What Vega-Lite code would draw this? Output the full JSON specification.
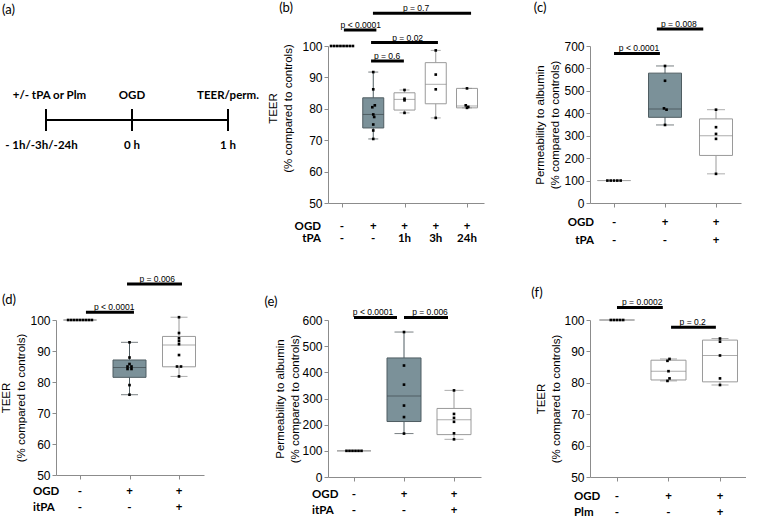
{
"$schema": "https://vega.github.io/schema/vega-lite/v6.json",
"background": "white",
"padding": {"top": 2, "left": 0, "right": 0, "bottom": 0},
"config": {
  "view": {"stroke": null},
  "scale": {"continuousPadding": 0},
  "axis": {"domainColor": "#8c8c8c", "tickColor": "#8c8c8c", "tickSize": 4, "grid": false, "labelOverlap": false, "labelSeparation": 0, "labelFont": "Liberation Sans", "labelFontSize": 12, "labelColor": "#000", "labelPadding": 2, "titleFont": "Liberation Sans", "titleFontSize": 11.5, "titleFontWeight": "normal", "titleColor": "#000", "titlePadding": 8, "titleLineHeight": 15, "domainWidth": 1, "tickWidth": 1},
  "axisY": {"labelOverlap": false},
  "axisLeft": {"labelOverlap": false}
},
"datasets": {
  "boxes": [
    {"panel":"b","x":1,"lo":100,"q1":100,"med":100,"q3":100,"hi":100,"grp":"ctrl"},
    {"panel":"b","x":2,"lo":70.4,"q1":73.9,"med":78.2,"q3":83.5,"hi":91.7,"grp":"OGD"},
    {"panel":"b","x":3,"lo":78.7,"q1":79.6,"med":83.0,"q3":85.1,"hi":86.0,"grp":"tr"},
    {"panel":"b","x":4,"lo":77.1,"q1":81.6,"med":87.8,"q3":94.7,"hi":98.6,"grp":"tr"},
    {"panel":"b","x":5,"lo":80.3,"q1":80.3,"med":80.9,"q3":86.5,"hi":86.5,"grp":"tr"},
    {"panel":"c","x":1,"lo":100,"q1":100,"med":100,"q3":100,"hi":100,"grp":"ctrl"},
    {"panel":"c","x":2,"lo":348,"q1":382,"med":419,"q3":579,"hi":611,"grp":"OGD"},
    {"panel":"c","x":3,"lo":130,"q1":212,"med":300,"q3":375,"hi":416,"grp":"tr"},
    {"panel":"d","x":1,"lo":100,"q1":100,"med":100,"q3":100,"hi":100,"grp":"ctrl"},
    {"panel":"d","x":2,"lo":75.9,"q1":81.5,"med":84.7,"q3":87.1,"hi":92.8,"grp":"OGD"},
    {"panel":"d","x":3,"lo":81.8,"q1":84.9,"med":91.9,"q3":94.7,"hi":100.9,"grp":"tr"},
    {"panel":"e","x":1,"lo":100,"q1":100,"med":100,"q3":100,"hi":100,"grp":"ctrl"},
    {"panel":"e","x":2,"lo":166,"q1":212,"med":310,"q3":455,"hi":554,"grp":"OGD"},
    {"panel":"e","x":3,"lo":144,"q1":162,"med":219,"q3":262,"hi":331,"grp":"tr"},
    {"panel":"f","x":1,"lo":100,"q1":100,"med":100,"q3":100,"hi":100,"grp":"ctrl"},
    {"panel":"f","x":2,"lo":80.6,"q1":80.9,"med":83.7,"q3":87.2,"hi":87.6,"grp":"tr"},
    {"panel":"f","x":3,"lo":79.3,"q1":80.3,"med":88.7,"q3":93.6,"hi":94.1,"grp":"tr"}
  ],
  "points": [
    {"panel":"b","x":0.65,"v":100},{"panel":"b","x":0.75,"v":100},{"panel":"b","x":0.85,"v":100},{"panel":"b","x":0.95,"v":100},
    {"panel":"b","x":1.05,"v":100},{"panel":"b","x":1.15,"v":100},{"panel":"b","x":1.25,"v":100},{"panel":"b","x":1.35,"v":100},
    {"panel":"b","x":2,"v":91.7},{"panel":"b","x":2,"v":86.2},{"panel":"b","x":2.05,"v":81.1},{"panel":"b","x":1.97,"v":80.5},
    {"panel":"b","x":2,"v":78.2},{"panel":"b","x":2.03,"v":77.4},{"panel":"b","x":2,"v":75.0},{"panel":"b","x":2,"v":73.1},{"panel":"b","x":2,"v":70.4},
    {"panel":"b","x":3,"v":86.0},{"panel":"b","x":3,"v":83.2},{"panel":"b","x":3,"v":82.7},{"panel":"b","x":3,"v":78.7},
    {"panel":"b","x":4,"v":98.6},{"panel":"b","x":4,"v":90.9},{"panel":"b","x":4,"v":86.2},{"panel":"b","x":4,"v":77.1},
    {"panel":"b","x":5,"v":86.5},{"panel":"b","x":4.96,"v":81.1},{"panel":"b","x":5.04,"v":80.6},{"panel":"b","x":5,"v":80.3},
    {"panel":"c","x":0.87,"v":100},{"panel":"c","x":0.935,"v":100},{"panel":"c","x":1,"v":100},{"panel":"c","x":1.065,"v":100},{"panel":"c","x":1.13,"v":100},
    {"panel":"c","x":2,"v":611},{"panel":"c","x":2,"v":545},{"panel":"c","x":1.98,"v":422},{"panel":"c","x":2.03,"v":416},{"panel":"c","x":2,"v":348},
    {"panel":"c","x":3,"v":416},{"panel":"c","x":3,"v":338},{"panel":"c","x":3,"v":308},{"panel":"c","x":3,"v":286},{"panel":"c","x":3,"v":130},
    {"panel":"d","x":0.76,"v":100},{"panel":"d","x":0.82,"v":100},{"panel":"d","x":0.88,"v":100},{"panel":"d","x":0.94,"v":100},{"panel":"d","x":1,"v":100},
    {"panel":"d","x":1.06,"v":100},{"panel":"d","x":1.12,"v":100},{"panel":"d","x":1.18,"v":100},{"panel":"d","x":1.24,"v":100},
    {"panel":"d","x":2,"v":92.8},{"panel":"d","x":2,"v":87.9},{"panel":"d","x":2,"v":85.8},{"panel":"d","x":1.96,"v":85.0},{"panel":"d","x":2.04,"v":85.0},
    {"panel":"d","x":1.96,"v":84.2},{"panel":"d","x":2.04,"v":84.2},{"panel":"d","x":2,"v":79.0},{"panel":"d","x":2,"v":75.9},
    {"panel":"d","x":3,"v":100.9},{"panel":"d","x":3,"v":95.8},{"panel":"d","x":3,"v":94.1},{"panel":"d","x":3,"v":93.2},{"panel":"d","x":3,"v":92.2},
    {"panel":"d","x":3,"v":88.7},{"panel":"d","x":2.96,"v":85.0},{"panel":"d","x":3.04,"v":85.0},{"panel":"d","x":3,"v":81.8},
    {"panel":"e","x":0.85,"v":100},{"panel":"e","x":0.91,"v":100},{"panel":"e","x":0.97,"v":100},{"panel":"e","x":1.03,"v":100},{"panel":"e","x":1.09,"v":100},{"panel":"e","x":1.15,"v":100},
    {"panel":"e","x":2,"v":554},{"panel":"e","x":2,"v":426},{"panel":"e","x":2,"v":353},{"panel":"e","x":2,"v":273},{"panel":"e","x":2,"v":229},{"panel":"e","x":2,"v":166},
    {"panel":"e","x":3,"v":331},{"panel":"e","x":3,"v":241},{"panel":"e","x":3,"v":226},{"panel":"e","x":3,"v":211},{"panel":"e","x":3,"v":167},{"panel":"e","x":3,"v":144},
    {"panel":"f","x":0.88,"v":100},{"panel":"f","x":0.94,"v":100},{"panel":"f","x":1,"v":100},{"panel":"f","x":1.06,"v":100},{"panel":"f","x":1.12,"v":100},
    {"panel":"f","x":2.02,"v":87.6},{"panel":"f","x":1.98,"v":87.0},{"panel":"f","x":2,"v":83.7},{"panel":"f","x":2.02,"v":81.4},{"panel":"f","x":1.98,"v":80.6},
    {"panel":"f","x":3,"v":94.1},{"panel":"f","x":3,"v":93.1},{"panel":"f","x":3,"v":88.7},{"panel":"f","x":3,"v":81.4},{"panel":"f","x":3,"v":79.3}
  ],
  "sigs": [
    {"panel":"b","x1":1.06,"x2":2.1,"xm":1.6,"y":105.1,"p":"p < 0.0001"},
    {"panel":"b","x1":1.99,"x2":5.13,"xm":3.37,"y":110.4,"p":"p = 0.7"},
    {"panel":"b","x1":1.93,"x2":4.07,"xm":3.1,"y":101.1,"p":"p = 0.02"},
    {"panel":"b","x1":1.93,"x2":2.98,"xm":2.44,"y":95.2,"p":"p = 0.6"},
    {"panel":"c","x1":1.0,"x2":1.9,"xm":1.49,"y":667,"p":"p < 0.0001"},
    {"panel":"c","x1":1.84,"x2":2.75,"xm":2.27,"y":776,"p":"p = 0.008"},
    {"panel":"d","x1":1.12,"x2":2.09,"xm":1.69,"y":102.5,"p":"p < 0.0001"},
    {"panel":"d","x1":1.95,"x2":3.06,"xm":2.56,"y":111.6,"p":"p = 0.006"},
    {"panel":"e","x1":1.0,"x2":1.86,"xm":1.38,"y":610,"p":"p < 0.0001"},
    {"panel":"e","x1":2.0,"x2":2.88,"xm":2.52,"y":610,"p":"p = 0.006"},
    {"panel":"f","x1":1.0,"x2":1.89,"xm":1.49,"y":104.0,"p":"p = 0.0002"},
    {"panel":"f","x1":2.05,"x2":2.92,"xm":2.47,"y":97.7,"p":"p = 0.2"}
  ],
  "labels": [
    {"panel":"b","kind":"head","x":0.328,"y":42.4,"t":"OGD"},{"panel":"b","kind":"head","x":0.328,"y":38.5,"t":"tPA"},
    {"panel":"b","kind":"sym","x":1,"y":42.4,"t":"-"},{"panel":"b","kind":"sym","x":2,"y":42.4,"t":"+"},{"panel":"b","kind":"sym","x":3,"y":42.4,"t":"+"},{"panel":"b","kind":"sym","x":4,"y":42.4,"t":"+"},{"panel":"b","kind":"sym","x":5,"y":42.4,"t":"+"},
    {"panel":"b","kind":"sym","x":1,"y":38.5,"t":"-"},{"panel":"b","kind":"sym","x":2,"y":38.5,"t":"-"},{"panel":"b","kind":"sym","x":3,"y":38.5,"t":"1h"},{"panel":"b","kind":"sym","x":4,"y":38.5,"t":"3h"},{"panel":"b","kind":"sym","x":5,"y":38.5,"t":"24h"},
    {"panel":"b","kind":"tag","x":-0.79,"y":112.1,"t":"(b)"},
    {"panel":"c","kind":"head","x":0.608,"y":-89,"t":"OGD"},{"panel":"c","kind":"head","x":0.608,"y":-169,"t":"tPA"},
    {"panel":"c","kind":"sym","x":1,"y":-89,"t":"-"},{"panel":"c","kind":"sym","x":2,"y":-89,"t":"+"},{"panel":"c","kind":"sym","x":3,"y":-89,"t":"+"},
    {"panel":"c","kind":"sym","x":1,"y":-169,"t":"-"},{"panel":"c","kind":"sym","x":2,"y":-169,"t":"-"},{"panel":"c","kind":"sym","x":3,"y":-169,"t":"+"},
    {"panel":"c","kind":"tag","x":-0.45,"y":869,"t":"(c)"},
    {"panel":"d","kind":"head","x":0.05,"y":44.5,"t":"OGD"},{"panel":"d","kind":"head","x":0.05,"y":39.4,"t":"itPA"},
    {"panel":"d","kind":"sym","x":1,"y":44.5,"t":"-"},{"panel":"d","kind":"sym","x":2,"y":44.5,"t":"+"},{"panel":"d","kind":"sym","x":3,"y":44.5,"t":"+"},
    {"panel":"d","kind":"sym","x":1,"y":39.4,"t":"-"},{"panel":"d","kind":"sym","x":2,"y":39.4,"t":"-"},{"panel":"d","kind":"sym","x":3,"y":39.4,"t":"+"},
    {"panel":"d","kind":"tag","x":-0.434,"y":106.5,"t":"(d)"},
    {"panel":"e","kind":"head","x":0.16,"y":-69,"t":"OGD"},{"panel":"e","kind":"head","x":0.16,"y":-130,"t":"itPA"},
    {"panel":"e","kind":"sym","x":1,"y":-69,"t":"-"},{"panel":"e","kind":"sym","x":2,"y":-69,"t":"+"},{"panel":"e","kind":"sym","x":3,"y":-69,"t":"+"},
    {"panel":"e","kind":"sym","x":1,"y":-130,"t":"-"},{"panel":"e","kind":"sym","x":2,"y":-130,"t":"-"},{"panel":"e","kind":"sym","x":3,"y":-130,"t":"+"},
    {"panel":"e","kind":"tag","x":-0.66,"y":669,"t":"(e)"},
    {"panel":"f","kind":"head","x":0.165,"y":43.6,"t":"OGD"},{"panel":"f","kind":"head","x":0.165,"y":38.5,"t":"Plm"},
    {"panel":"f","kind":"sym","x":1,"y":43.6,"t":"-"},{"panel":"f","kind":"sym","x":2,"y":43.6,"t":"+"},{"panel":"f","kind":"sym","x":3,"y":43.6,"t":"+"},
    {"panel":"f","kind":"sym","x":1,"y":38.5,"t":"-"},{"panel":"f","kind":"sym","x":2,"y":38.5,"t":"-"},{"panel":"f","kind":"sym","x":3,"y":38.5,"t":"+"},
    {"panel":"f","kind":"tag","x":-0.553,"y":108.6,"t":"(f)"}
  ],
  "tl": [
    {"x":-0.896,"x2":1,"y":0,"y2":0},
    {"x":-0.896,"x2":-0.896,"y":-0.407,"y2":0.407},
    {"x":0,"x2":0,"y":-0.407,"y2":0.407},
    {"x":1,"x2":1,"y":-0.407,"y2":0.407}
  ],
  "tlt": [
    {"x":-0.86,"y":0.889,"t":"+/- tPA or Plm","kind":"txt"},
    {"x":0,"y":0.889,"t":"OGD","kind":"txt"},
    {"x":1,"y":0.889,"t":"TEER/perm.","kind":"txt"},
    {"x":-0.943,"y":-0.963,"t":"- 1h/-3h/-24h","kind":"txt"},
    {"x":0,"y":-0.963,"t":"0 h","kind":"txt"},
    {"x":1,"y":-0.963,"t":"1 h","kind":"txt"},
    {"x":-1.354,"y":4.07,"t":"(a)","kind":"tag"}
  ]
},
"columns": 5,
"align": "each",
"bounds": "flush",
"spacing": {"row": 117, "column": 0},
"concat": [
  {
    "width": 166, "height": 157,
    "layer": [
      {"data": {"name": "tl"}, "mark": {"type": "rule", "strokeWidth": 2, "color": "#000"},
       "encoding": {
         "x": {"field": "x", "type": "quantitative", "scale": {"domain": [-0.7917, 0.9375], "nice": false, "zero": false}, "axis": null},
         "x2": {"field": "x2"},
         "y": {"field": "y", "type": "quantitative", "scale": {"domain": [-3.074, 2.741], "nice": false, "zero": false}, "axis": null},
         "y2": {"field": "y2"}}},
      {"data": {"name": "tlt"}, "transform": [{"filter": "datum.kind === 'txt'"}],
       "mark": {"type": "text", "font": "Lato", "fontSize": 11.5, "fontWeight": "bold", "baseline": "middle", "align": "center", "color": "#000"},
       "encoding": {
         "x": {"field": "x", "type": "quantitative", "scale": {"domain": [-0.7917, 0.9375], "nice": false, "zero": false}, "axis": null},
         "y": {"field": "y", "type": "quantitative", "scale": {"domain": [-3.074, 2.741], "nice": false, "zero": false}, "axis": null},
         "text": {"field": "t"}}},
      {"data": {"name": "tlt"}, "transform": [{"filter": "datum.kind === 'tag'"}],
       "mark": {"type": "text", "font": "Lato", "fontSize": 13, "baseline": "middle", "align": "left", "color": "#000"},
       "encoding": {
         "x": {"field": "x", "type": "quantitative", "scale": {"domain": [-0.7917, 0.9375], "nice": false, "zero": false}, "axis": null},
         "y": {"field": "y", "type": "quantitative", "scale": {"domain": [-3.074, 2.741], "nice": false, "zero": false}, "axis": null},
         "text": {"field": "t"}}}
    ]
  },
  {"width": 106, "height": 157, "data": {"values": []}, "mark": "text", "encoding": {}},
  {
    "width": 156, "height": 157,
    "layer": [
      {"data": {"name": "boxes"}, "transform": [{"filter": "datum.panel === 'b'"}],
       "mark": {"type": "rule", "strokeWidth": 1},
       "encoding": {
         "x": {"field": "x", "type": "quantitative", "scale": {"domain": [0.552, 5.544], "nice": false, "zero": false}, "axis": {"values": [1,2,3,4,5], "labels": false, "title": null}},
         "y": {"field": "lo", "type": "quantitative", "scale": {"domain": [50, 100], "nice": false, "zero": false}, "axis": {"tickCount": 5, "labelOverlap": false, "title": ["TEER", "(% compared to controls)"], "titleY": 62, "titlePadding": 8}},
         "y2": {"field": "hi"},
         "stroke": {"field": "grp", "type": "nominal", "scale": {"domain": ["ctrl","OGD","tr"], "range": ["#a8a8a8","#4f5d62","#9a9a9a"]}, "legend": null}}},
      {"data": {"name": "boxes"}, "transform": [{"filter": "datum.panel === 'b'"}],
       "mark": {"type": "bar", "size": 21, "strokeWidth": 1},
       "encoding": {
         "x": {"field": "x", "type": "quantitative", "scale": {"domain": [0.552, 5.544], "nice": false, "zero": false}},
         "y": {"field": "q1", "type": "quantitative", "scale": {"domain": [50, 100], "nice": false, "zero": false}},
         "y2": {"field": "q3"},
         "fill": {"field": "grp", "type": "nominal", "scale": {"domain": ["ctrl","OGD","tr"], "range": ["#ffffff","#7b9199","#ffffff"]}, "legend": null},
         "stroke": {"field": "grp", "type": "nominal", "legend": null}}},
      {"data": {"name": "boxes"}, "transform": [{"filter": "datum.panel === 'b'"}],
       "mark": {"type": "tick", "orient": "horizontal", "size": 21, "thickness": 1},
       "encoding": {
         "x": {"field": "x", "type": "quantitative", "scale": {"domain": [0.552, 5.544], "nice": false, "zero": false}},
         "y": {"field": "med", "type": "quantitative", "scale": {"domain": [50, 100], "nice": false, "zero": false}},
         "color": {"field": "grp", "type": "nominal", "scale": {"domain": ["ctrl","OGD","tr"], "range": ["#a8a8a8","#3e494d","#8a8a8a"]}, "legend": null}}},
      {"data": {"name": "boxes"}, "transform": [{"filter": "datum.panel === 'b' && datum.grp !== 'ctrl'"}],
       "mark": {"type": "tick", "orient": "horizontal", "size": 10, "thickness": 1},
       "encoding": {
         "x": {"field": "x", "type": "quantitative", "scale": {"domain": [0.552, 5.544], "nice": false, "zero": false}},
         "y": {"field": "lo", "type": "quantitative", "scale": {"domain": [50, 100], "nice": false, "zero": false}},
         "color": {"field": "grp", "type": "nominal", "legend": null}}},
      {"data": {"name": "boxes"}, "transform": [{"filter": "datum.panel === 'b' && datum.grp !== 'ctrl'"}],
       "mark": {"type": "tick", "orient": "horizontal", "size": 10, "thickness": 1},
       "encoding": {
         "x": {"field": "x", "type": "quantitative", "scale": {"domain": [0.552, 5.544], "nice": false, "zero": false}},
         "y": {"field": "hi", "type": "quantitative", "scale": {"domain": [50, 100], "nice": false, "zero": false}},
         "color": {"field": "grp", "type": "nominal", "legend": null}}},
      {"data": {"name": "points"}, "transform": [{"filter": "datum.panel === 'b'"}],
       "mark": {"type": "point", "shape": "square", "filled": true, "size": 7, "color": "#000", "opacity": 1},
       "encoding": {
         "x": {"field": "x", "type": "quantitative", "scale": {"domain": [0.552, 5.544], "nice": false, "zero": false}},
         "y": {"field": "v", "type": "quantitative", "scale": {"domain": [50, 100], "nice": false, "zero": false}}}},
      {"data": {"name": "sigs"}, "transform": [{"filter": "datum.panel === 'b'"}],
       "mark": {"type": "rule", "strokeWidth": 3, "color": "#000"},
       "encoding": {
         "x": {"field": "x1", "type": "quantitative", "scale": {"domain": [0.552, 5.544], "nice": false, "zero": false}},
         "x2": {"field": "x2"},
         "y": {"field": "y", "type": "quantitative", "scale": {"domain": [50, 100], "nice": false, "zero": false}}}},
      {"data": {"name": "sigs"}, "transform": [{"filter": "datum.panel === 'b'"}],
       "mark": {"type": "text", "font": "Liberation Sans", "fontSize": 8.5, "baseline": "alphabetic", "dy": -2, "align": "center", "color": "#000"},
       "encoding": {
         "x": {"field": "xm", "type": "quantitative", "scale": {"domain": [0.552, 5.544], "nice": false, "zero": false}},
         "y": {"field": "y", "type": "quantitative", "scale": {"domain": [50, 100], "nice": false, "zero": false}},
         "text": {"field": "p"}}},
      {"data": {"name": "labels"}, "transform": [{"filter": "datum.panel === 'b' && datum.kind === 'head'"}],
       "mark": {"type": "text", "font": "Lato", "fontSize": 11.5, "fontWeight": "bold", "baseline": "middle", "align": "right", "color": "#000"},
       "encoding": {
         "x": {"field": "x", "type": "quantitative", "scale": {"domain": [0.552, 5.544], "nice": false, "zero": false}},
         "y": {"field": "y", "type": "quantitative", "scale": {"domain": [50, 100], "nice": false, "zero": false}},
         "text": {"field": "t"}}},
      {"data": {"name": "labels"}, "transform": [{"filter": "datum.panel === 'b' && datum.kind === 'sym'"}],
       "mark": {"type": "text", "font": "Lato", "fontSize": 11.5, "fontWeight": "bold", "baseline": "middle", "align": "center", "color": "#000"},
       "encoding": {
         "x": {"field": "x", "type": "quantitative", "scale": {"domain": [0.552, 5.544], "nice": false, "zero": false}},
         "y": {"field": "y", "type": "quantitative", "scale": {"domain": [50, 100], "nice": false, "zero": false}},
         "text": {"field": "t"}}},
      {"data": {"name": "labels"}, "transform": [{"filter": "datum.panel === 'b' && datum.kind === 'tag'"}],
       "mark": {"type": "text", "font": "Lato", "fontSize": 13, "baseline": "middle", "align": "center", "color": "#000"},
       "encoding": {
         "x": {"field": "x", "type": "quantitative", "scale": {"domain": [0.552, 5.544], "nice": false, "zero": false}},
         "y": {"field": "y", "type": "quantitative", "scale": {"domain": [50, 100], "nice": false, "zero": false}},
         "text": {"field": "t"}}}
    ]
  },
  {"width": 106, "height": 157, "data": {"values": []}, "mark": "text", "encoding": {}},
  {
    "width": 151, "height": 157,
    "layer": [
      {"data": {"name": "boxes"}, "transform": [{"filter": "datum.panel === 'c'"}],
       "mark": {"type": "rule", "strokeWidth": 1},
       "encoding": {
         "x": {"field": "x", "type": "quantitative", "scale": {"domain": [0.529, 3.49], "nice": false, "zero": false}, "axis": {"values": [1,2,3], "labels": false, "title": null}},
         "y": {"field": "lo", "type": "quantitative", "scale": {"domain": [0, 700], "nice": false, "zero": false}, "axis": {"tickCount": 7, "labelOverlap": false, "title": ["Permeability to albumin", "(% compared to controls)"], "titlePadding": 3}},
         "y2": {"field": "hi"},
         "stroke": {"field": "grp", "type": "nominal", "scale": {"domain": ["ctrl","OGD","tr"], "range": ["#a8a8a8","#4f5d62","#9a9a9a"]}, "legend": null}}},
      {"data": {"name": "boxes"}, "transform": [{"filter": "datum.panel === 'c'"}],
       "mark": {"type": "bar", "size": 33, "strokeWidth": 1},
       "encoding": {
         "x": {"field": "x", "type": "quantitative", "scale": {"domain": [0.529, 3.49], "nice": false, "zero": false}},
         "y": {"field": "q1", "type": "quantitative", "scale": {"domain": [0, 700], "nice": false, "zero": false}},
         "y2": {"field": "q3"},
         "fill": {"field": "grp", "type": "nominal", "scale": {"domain": ["ctrl","OGD","tr"], "range": ["#ffffff","#7b9199","#ffffff"]}, "legend": null},
         "stroke": {"field": "grp", "type": "nominal", "legend": null}}},
      {"data": {"name": "boxes"}, "transform": [{"filter": "datum.panel === 'c'"}],
       "mark": {"type": "tick", "orient": "horizontal", "size": 33, "thickness": 1},
       "encoding": {
         "x": {"field": "x", "type": "quantitative", "scale": {"domain": [0.529, 3.49], "nice": false, "zero": false}},
         "y": {"field": "med", "type": "quantitative", "scale": {"domain": [0, 700], "nice": false, "zero": false}},
         "color": {"field": "grp", "type": "nominal", "scale": {"domain": ["ctrl","OGD","tr"], "range": ["#a8a8a8","#3e494d","#8a8a8a"]}, "legend": null}}},
      {"data": {"name": "boxes"}, "transform": [{"filter": "datum.panel === 'c' && datum.grp !== 'ctrl'"}],
       "mark": {"type": "tick", "orient": "horizontal", "size": 18, "thickness": 1},
       "encoding": {
         "x": {"field": "x", "type": "quantitative", "scale": {"domain": [0.529, 3.49], "nice": false, "zero": false}},
         "y": {"field": "lo", "type": "quantitative", "scale": {"domain": [0, 700], "nice": false, "zero": false}},
         "color": {"field": "grp", "type": "nominal", "legend": null}}},
      {"data": {"name": "boxes"}, "transform": [{"filter": "datum.panel === 'c' && datum.grp !== 'ctrl'"}],
       "mark": {"type": "tick", "orient": "horizontal", "size": 18, "thickness": 1},
       "encoding": {
         "x": {"field": "x", "type": "quantitative", "scale": {"domain": [0.529, 3.49], "nice": false, "zero": false}},
         "y": {"field": "hi", "type": "quantitative", "scale": {"domain": [0, 700], "nice": false, "zero": false}},
         "color": {"field": "grp", "type": "nominal", "legend": null}}},
      {"data": {"name": "points"}, "transform": [{"filter": "datum.panel === 'c'"}],
       "mark": {"type": "point", "shape": "square", "filled": true, "size": 7, "color": "#000", "opacity": 1},
       "encoding": {
         "x": {"field": "x", "type": "quantitative", "scale": {"domain": [0.529, 3.49], "nice": false, "zero": false}},
         "y": {"field": "v", "type": "quantitative", "scale": {"domain": [0, 700], "nice": false, "zero": false}}}},
      {"data": {"name": "sigs"}, "transform": [{"filter": "datum.panel === 'c'"}],
       "mark": {"type": "rule", "strokeWidth": 3, "color": "#000"},
       "encoding": {
         "x": {"field": "x1", "type": "quantitative", "scale": {"domain": [0.529, 3.49], "nice": false, "zero": false}},
         "x2": {"field": "x2"},
         "y": {"field": "y", "type": "quantitative", "scale": {"domain": [0, 700], "nice": false, "zero": false}}}},
      {"data": {"name": "sigs"}, "transform": [{"filter": "datum.panel === 'c'"}],
       "mark": {"type": "text", "font": "Liberation Sans", "fontSize": 8.5, "baseline": "alphabetic", "dy": -2, "align": "center", "color": "#000"},
       "encoding": {
         "x": {"field": "xm", "type": "quantitative", "scale": {"domain": [0.529, 3.49], "nice": false, "zero": false}},
         "y": {"field": "y", "type": "quantitative", "scale": {"domain": [0, 700], "nice": false, "zero": false}},
         "text": {"field": "p"}}},
      {"data": {"name": "labels"}, "transform": [{"filter": "datum.panel === 'c' && datum.kind === 'head'"}],
       "mark": {"type": "text", "font": "Lato", "fontSize": 11.5, "fontWeight": "bold", "baseline": "middle", "align": "right", "color": "#000"},
       "encoding": {
         "x": {"field": "x", "type": "quantitative", "scale": {"domain": [0.529, 3.49], "nice": false, "zero": false}},
         "y": {"field": "y", "type": "quantitative", "scale": {"domain": [0, 700], "nice": false, "zero": false}},
         "text": {"field": "t"}}},
      {"data": {"name": "labels"}, "transform": [{"filter": "datum.panel === 'c' && datum.kind === 'sym'"}],
       "mark": {"type": "text", "font": "Lato", "fontSize": 11.5, "fontWeight": "bold", "baseline": "middle", "align": "center", "color": "#000"},
       "encoding": {
         "x": {"field": "x", "type": "quantitative", "scale": {"domain": [0.529, 3.49], "nice": false, "zero": false}},
         "y": {"field": "y", "type": "quantitative", "scale": {"domain": [0, 700], "nice": false, "zero": false}},
         "text": {"field": "t"}}},
      {"data": {"name": "labels"}, "transform": [{"filter": "datum.panel === 'c' && datum.kind === 'tag'"}],
       "mark": {"type": "text", "font": "Lato", "fontSize": 13, "baseline": "middle", "align": "center", "color": "#000"},
       "encoding": {
         "x": {"field": "x", "type": "quantitative", "scale": {"domain": [0.529, 3.49], "nice": false, "zero": false}},
         "y": {"field": "y", "type": "quantitative", "scale": {"domain": [0, 700], "nice": false, "zero": false}},
         "text": {"field": "t"}}}
    ]
  },
  {
    "width": 148, "height": 155,
    "layer": [
      {"data": {"name": "boxes"}, "transform": [{"filter": "datum.panel === 'd'"}],
       "mark": {"type": "rule", "strokeWidth": 1},
       "encoding": {
         "x": {"field": "x", "type": "quantitative", "scale": {"domain": [0.515, 3.505], "nice": false, "zero": false}, "axis": {"values": [1,2,3], "labels": false, "title": null}},
         "y": {"field": "lo", "type": "quantitative", "scale": {"domain": [50, 100], "nice": false, "zero": false}, "axis": {"tickCount": 5, "labelOverlap": false, "title": ["TEER", "(% compared to controls)"], "titlePadding": 3}},
         "y2": {"field": "hi"},
         "stroke": {"field": "grp", "type": "nominal", "scale": {"domain": ["ctrl","OGD","tr"], "range": ["#a8a8a8","#4f5d62","#9a9a9a"]}, "legend": null}}},
      {"data": {"name": "boxes"}, "transform": [{"filter": "datum.panel === 'd'"}],
       "mark": {"type": "bar", "size": 33, "strokeWidth": 1},
       "encoding": {
         "x": {"field": "x", "type": "quantitative", "scale": {"domain": [0.515, 3.505], "nice": false, "zero": false}},
         "y": {"field": "q1", "type": "quantitative", "scale": {"domain": [50, 100], "nice": false, "zero": false}},
         "y2": {"field": "q3"},
         "fill": {"field": "grp", "type": "nominal", "scale": {"domain": ["ctrl","OGD","tr"], "range": ["#ffffff","#7b9199","#ffffff"]}, "legend": null},
         "stroke": {"field": "grp", "type": "nominal", "legend": null}}},
      {"data": {"name": "boxes"}, "transform": [{"filter": "datum.panel === 'd'"}],
       "mark": {"type": "tick", "orient": "horizontal", "size": 33, "thickness": 1},
       "encoding": {
         "x": {"field": "x", "type": "quantitative", "scale": {"domain": [0.515, 3.505], "nice": false, "zero": false}},
         "y": {"field": "med", "type": "quantitative", "scale": {"domain": [50, 100], "nice": false, "zero": false}},
         "color": {"field": "grp", "type": "nominal", "scale": {"domain": ["ctrl","OGD","tr"], "range": ["#a8a8a8","#3e494d","#8a8a8a"]}, "legend": null}}},
      {"data": {"name": "boxes"}, "transform": [{"filter": "datum.panel === 'd' && datum.grp !== 'ctrl'"}],
       "mark": {"type": "tick", "orient": "horizontal", "size": 17, "thickness": 1},
       "encoding": {
         "x": {"field": "x", "type": "quantitative", "scale": {"domain": [0.515, 3.505], "nice": false, "zero": false}},
         "y": {"field": "lo", "type": "quantitative", "scale": {"domain": [50, 100], "nice": false, "zero": false}},
         "color": {"field": "grp", "type": "nominal", "legend": null}}},
      {"data": {"name": "boxes"}, "transform": [{"filter": "datum.panel === 'd' && datum.grp !== 'ctrl'"}],
       "mark": {"type": "tick", "orient": "horizontal", "size": 17, "thickness": 1},
       "encoding": {
         "x": {"field": "x", "type": "quantitative", "scale": {"domain": [0.515, 3.505], "nice": false, "zero": false}},
         "y": {"field": "hi", "type": "quantitative", "scale": {"domain": [50, 100], "nice": false, "zero": false}},
         "color": {"field": "grp", "type": "nominal", "legend": null}}},
      {"data": {"name": "points"}, "transform": [{"filter": "datum.panel === 'd'"}],
       "mark": {"type": "point", "shape": "square", "filled": true, "size": 7, "color": "#000", "opacity": 1},
       "encoding": {
         "x": {"field": "x", "type": "quantitative", "scale": {"domain": [0.515, 3.505], "nice": false, "zero": false}},
         "y": {"field": "v", "type": "quantitative", "scale": {"domain": [50, 100], "nice": false, "zero": false}}}},
      {"data": {"name": "sigs"}, "transform": [{"filter": "datum.panel === 'd'"}],
       "mark": {"type": "rule", "strokeWidth": 3, "color": "#000"},
       "encoding": {
         "x": {"field": "x1", "type": "quantitative", "scale": {"domain": [0.515, 3.505], "nice": false, "zero": false}},
         "x2": {"field": "x2"},
         "y": {"field": "y", "type": "quantitative", "scale": {"domain": [50, 100], "nice": false, "zero": false}}}},
      {"data": {"name": "sigs"}, "transform": [{"filter": "datum.panel === 'd'"}],
       "mark": {"type": "text", "font": "Liberation Sans", "fontSize": 8.5, "baseline": "alphabetic", "dy": -2, "align": "center", "color": "#000"},
       "encoding": {
         "x": {"field": "xm", "type": "quantitative", "scale": {"domain": [0.515, 3.505], "nice": false, "zero": false}},
         "y": {"field": "y", "type": "quantitative", "scale": {"domain": [50, 100], "nice": false, "zero": false}},
         "text": {"field": "p"}}},
      {"data": {"name": "labels"}, "transform": [{"filter": "datum.panel === 'd' && datum.kind === 'head'"}],
       "mark": {"type": "text", "font": "Lato", "fontSize": 11.5, "fontWeight": "bold", "baseline": "middle", "align": "left", "color": "#000"},
       "encoding": {
         "x": {"field": "x", "type": "quantitative", "scale": {"domain": [0.515, 3.505], "nice": false, "zero": false}},
         "y": {"field": "y", "type": "quantitative", "scale": {"domain": [50, 100], "nice": false, "zero": false}},
         "text": {"field": "t"}}},
      {"data": {"name": "labels"}, "transform": [{"filter": "datum.panel === 'd' && datum.kind === 'sym'"}],
       "mark": {"type": "text", "font": "Lato", "fontSize": 11.5, "fontWeight": "bold", "baseline": "middle", "align": "center", "color": "#000"},
       "encoding": {
         "x": {"field": "x", "type": "quantitative", "scale": {"domain": [0.515, 3.505], "nice": false, "zero": false}},
         "y": {"field": "y", "type": "quantitative", "scale": {"domain": [50, 100], "nice": false, "zero": false}},
         "text": {"field": "t"}}},
      {"data": {"name": "labels"}, "transform": [{"filter": "datum.panel === 'd' && datum.kind === 'tag'"}],
       "mark": {"type": "text", "font": "Lato", "fontSize": 13, "baseline": "middle", "align": "center", "color": "#000"},
       "encoding": {
         "x": {"field": "x", "type": "quantitative", "scale": {"domain": [0.515, 3.505], "nice": false, "zero": false}},
         "y": {"field": "y", "type": "quantitative", "scale": {"domain": [50, 100], "nice": false, "zero": false}},
         "text": {"field": "t"}}}
    ]
  },
  {"width": 106, "height": 155, "data": {"values": []}, "mark": "text", "encoding": {}},
  {
    "width": 153, "height": 157,
    "layer": [
      {"data": {"name": "boxes"}, "transform": [{"filter": "datum.panel === 'e'"}],
       "mark": {"type": "rule", "strokeWidth": 1},
       "encoding": {
         "x": {"field": "x", "type": "quantitative", "scale": {"domain": [0.48, 3.54], "nice": false, "zero": false}, "axis": {"values": [1,2,3], "labels": false, "title": null}},
         "y": {"field": "lo", "type": "quantitative", "scale": {"domain": [0, 600], "nice": false, "zero": false}, "axis": {"tickCount": 6, "labelOverlap": false, "title": ["Permeability to albumin", "(% compared to controls)"], "titlePadding": 1}},
         "y2": {"field": "hi"},
         "stroke": {"field": "grp", "type": "nominal", "scale": {"domain": ["ctrl","OGD","tr"], "range": ["#a8a8a8","#4f5d62","#9a9a9a"]}, "legend": null}}},
      {"data": {"name": "boxes"}, "transform": [{"filter": "datum.panel === 'e'"}],
       "mark": {"type": "bar", "size": 34, "strokeWidth": 1},
       "encoding": {
         "x": {"field": "x", "type": "quantitative", "scale": {"domain": [0.48, 3.54], "nice": false, "zero": false}},
         "y": {"field": "q1", "type": "quantitative", "scale": {"domain": [0, 600], "nice": false, "zero": false}},
         "y2": {"field": "q3"},
         "fill": {"field": "grp", "type": "nominal", "scale": {"domain": ["ctrl","OGD","tr"], "range": ["#ffffff","#7b9199","#ffffff"]}, "legend": null},
         "stroke": {"field": "grp", "type": "nominal", "legend": null}}},
      {"data": {"name": "boxes"}, "transform": [{"filter": "datum.panel === 'e'"}],
       "mark": {"type": "tick", "orient": "horizontal", "size": 34, "thickness": 1},
       "encoding": {
         "x": {"field": "x", "type": "quantitative", "scale": {"domain": [0.48, 3.54], "nice": false, "zero": false}},
         "y": {"field": "med", "type": "quantitative", "scale": {"domain": [0, 600], "nice": false, "zero": false}},
         "color": {"field": "grp", "type": "nominal", "scale": {"domain": ["ctrl","OGD","tr"], "range": ["#a8a8a8","#3e494d","#8a8a8a"]}, "legend": null}}},
      {"data": {"name": "boxes"}, "transform": [{"filter": "datum.panel === 'e' && datum.grp !== 'ctrl'"}],
       "mark": {"type": "tick", "orient": "horizontal", "size": 19, "thickness": 1},
       "encoding": {
         "x": {"field": "x", "type": "quantitative", "scale": {"domain": [0.48, 3.54], "nice": false, "zero": false}},
         "y": {"field": "lo", "type": "quantitative", "scale": {"domain": [0, 600], "nice": false, "zero": false}},
         "color": {"field": "grp", "type": "nominal", "legend": null}}},
      {"data": {"name": "boxes"}, "transform": [{"filter": "datum.panel === 'e' && datum.grp !== 'ctrl'"}],
       "mark": {"type": "tick", "orient": "horizontal", "size": 19, "thickness": 1},
       "encoding": {
         "x": {"field": "x", "type": "quantitative", "scale": {"domain": [0.48, 3.54], "nice": false, "zero": false}},
         "y": {"field": "hi", "type": "quantitative", "scale": {"domain": [0, 600], "nice": false, "zero": false}},
         "color": {"field": "grp", "type": "nominal", "legend": null}}},
      {"data": {"name": "points"}, "transform": [{"filter": "datum.panel === 'e'"}],
       "mark": {"type": "point", "shape": "square", "filled": true, "size": 7, "color": "#000", "opacity": 1},
       "encoding": {
         "x": {"field": "x", "type": "quantitative", "scale": {"domain": [0.48, 3.54], "nice": false, "zero": false}},
         "y": {"field": "v", "type": "quantitative", "scale": {"domain": [0, 600], "nice": false, "zero": false}}}},
      {"data": {"name": "sigs"}, "transform": [{"filter": "datum.panel === 'e'"}],
       "mark": {"type": "rule", "strokeWidth": 3, "color": "#000"},
       "encoding": {
         "x": {"field": "x1", "type": "quantitative", "scale": {"domain": [0.48, 3.54], "nice": false, "zero": false}},
         "x2": {"field": "x2"},
         "y": {"field": "y", "type": "quantitative", "scale": {"domain": [0, 600], "nice": false, "zero": false}}}},
      {"data": {"name": "sigs"}, "transform": [{"filter": "datum.panel === 'e'"}],
       "mark": {"type": "text", "font": "Liberation Sans", "fontSize": 8.5, "baseline": "alphabetic", "dy": -2, "align": "center", "color": "#000"},
       "encoding": {
         "x": {"field": "xm", "type": "quantitative", "scale": {"domain": [0.48, 3.54], "nice": false, "zero": false}},
         "y": {"field": "y", "type": "quantitative", "scale": {"domain": [0, 600], "nice": false, "zero": false}},
         "text": {"field": "p"}}},
      {"data": {"name": "labels"}, "transform": [{"filter": "datum.panel === 'e' && datum.kind === 'head'"}],
       "mark": {"type": "text", "font": "Lato", "fontSize": 11.5, "fontWeight": "bold", "baseline": "middle", "align": "left", "color": "#000"},
       "encoding": {
         "x": {"field": "x", "type": "quantitative", "scale": {"domain": [0.48, 3.54], "nice": false, "zero": false}},
         "y": {"field": "y", "type": "quantitative", "scale": {"domain": [0, 600], "nice": false, "zero": false}},
         "text": {"field": "t"}}},
      {"data": {"name": "labels"}, "transform": [{"filter": "datum.panel === 'e' && datum.kind === 'sym'"}],
       "mark": {"type": "text", "font": "Lato", "fontSize": 11.5, "fontWeight": "bold", "baseline": "middle", "align": "center", "color": "#000"},
       "encoding": {
         "x": {"field": "x", "type": "quantitative", "scale": {"domain": [0.48, 3.54], "nice": false, "zero": false}},
         "y": {"field": "y", "type": "quantitative", "scale": {"domain": [0, 600], "nice": false, "zero": false}},
         "text": {"field": "t"}}},
      {"data": {"name": "labels"}, "transform": [{"filter": "datum.panel === 'e' && datum.kind === 'tag'"}],
       "mark": {"type": "text", "font": "Lato", "fontSize": 13, "baseline": "middle", "align": "center", "color": "#000"},
       "encoding": {
         "x": {"field": "x", "type": "quantitative", "scale": {"domain": [0.48, 3.54], "nice": false, "zero": false}},
         "y": {"field": "y", "type": "quantitative", "scale": {"domain": [0, 600], "nice": false, "zero": false}},
         "text": {"field": "t"}}}
    ]
  },
  {"width": 106, "height": 157, "data": {"values": []}, "mark": "text", "encoding": {}},
  {
    "width": 156, "height": 157,
    "layer": [
      {"data": {"name": "boxes"}, "transform": [{"filter": "datum.panel === 'f'"}],
       "mark": {"type": "rule", "strokeWidth": 1},
       "encoding": {
         "x": {"field": "x", "type": "quantitative", "scale": {"domain": [0.476, 3.505], "nice": false, "zero": false}, "axis": {"values": [1,2,3], "labels": false, "title": null}},
         "y": {"field": "lo", "type": "quantitative", "scale": {"domain": [50, 100], "nice": false, "zero": false}, "axis": {"tickCount": 5, "labelOverlap": false, "title": ["TEER", "(% compared to controls)"], "titlePadding": 2}},
         "y2": {"field": "hi"},
         "stroke": {"field": "grp", "type": "nominal", "scale": {"domain": ["ctrl","OGD","tr"], "range": ["#a8a8a8","#4f5d62","#9a9a9a"]}, "legend": null}}},
      {"data": {"name": "boxes"}, "transform": [{"filter": "datum.panel === 'f'"}],
       "mark": {"type": "bar", "size": 35, "strokeWidth": 1},
       "encoding": {
         "x": {"field": "x", "type": "quantitative", "scale": {"domain": [0.476, 3.505], "nice": false, "zero": false}},
         "y": {"field": "q1", "type": "quantitative", "scale": {"domain": [50, 100], "nice": false, "zero": false}},
         "y2": {"field": "q3"},
         "fill": {"field": "grp", "type": "nominal", "scale": {"domain": ["ctrl","OGD","tr"], "range": ["#ffffff","#7b9199","#ffffff"]}, "legend": null},
         "stroke": {"field": "grp", "type": "nominal", "legend": null}}},
      {"data": {"name": "boxes"}, "transform": [{"filter": "datum.panel === 'f'"}],
       "mark": {"type": "tick", "orient": "horizontal", "size": 35, "thickness": 1},
       "encoding": {
         "x": {"field": "x", "type": "quantitative", "scale": {"domain": [0.476, 3.505], "nice": false, "zero": false}},
         "y": {"field": "med", "type": "quantitative", "scale": {"domain": [50, 100], "nice": false, "zero": false}},
         "color": {"field": "grp", "type": "nominal", "scale": {"domain": ["ctrl","OGD","tr"], "range": ["#a8a8a8","#3e494d","#8a8a8a"]}, "legend": null}}},
      {"data": {"name": "boxes"}, "transform": [{"filter": "datum.panel === 'f' && datum.grp !== 'ctrl'"}],
       "mark": {"type": "tick", "orient": "horizontal", "size": 17, "thickness": 1},
       "encoding": {
         "x": {"field": "x", "type": "quantitative", "scale": {"domain": [0.476, 3.505], "nice": false, "zero": false}},
         "y": {"field": "lo", "type": "quantitative", "scale": {"domain": [50, 100], "nice": false, "zero": false}},
         "color": {"field": "grp", "type": "nominal", "legend": null}}},
      {"data": {"name": "boxes"}, "transform": [{"filter": "datum.panel === 'f' && datum.grp !== 'ctrl'"}],
       "mark": {"type": "tick", "orient": "horizontal", "size": 17, "thickness": 1},
       "encoding": {
         "x": {"field": "x", "type": "quantitative", "scale": {"domain": [0.476, 3.505], "nice": false, "zero": false}},
         "y": {"field": "hi", "type": "quantitative", "scale": {"domain": [50, 100], "nice": false, "zero": false}},
         "color": {"field": "grp", "type": "nominal", "legend": null}}},
      {"data": {"name": "points"}, "transform": [{"filter": "datum.panel === 'f'"}],
       "mark": {"type": "point", "shape": "square", "filled": true, "size": 7, "color": "#000", "opacity": 1},
       "encoding": {
         "x": {"field": "x", "type": "quantitative", "scale": {"domain": [0.476, 3.505], "nice": false, "zero": false}},
         "y": {"field": "v", "type": "quantitative", "scale": {"domain": [50, 100], "nice": false, "zero": false}}}},
      {"data": {"name": "sigs"}, "transform": [{"filter": "datum.panel === 'f'"}],
       "mark": {"type": "rule", "strokeWidth": 3, "color": "#000"},
       "encoding": {
         "x": {"field": "x1", "type": "quantitative", "scale": {"domain": [0.476, 3.505], "nice": false, "zero": false}},
         "x2": {"field": "x2"},
         "y": {"field": "y", "type": "quantitative", "scale": {"domain": [50, 100], "nice": false, "zero": false}}}},
      {"data": {"name": "sigs"}, "transform": [{"filter": "datum.panel === 'f'"}],
       "mark": {"type": "text", "font": "Liberation Sans", "fontSize": 8.5, "baseline": "alphabetic", "dy": -2, "align": "center", "color": "#000"},
       "encoding": {
         "x": {"field": "xm", "type": "quantitative", "scale": {"domain": [0.476, 3.505], "nice": false, "zero": false}},
         "y": {"field": "y", "type": "quantitative", "scale": {"domain": [50, 100], "nice": false, "zero": false}},
         "text": {"field": "p"}}},
      {"data": {"name": "labels"}, "transform": [{"filter": "datum.panel === 'f' && datum.kind === 'head'"}],
       "mark": {"type": "text", "font": "Lato", "fontSize": 11.5, "fontWeight": "bold", "baseline": "middle", "align": "left", "color": "#000"},
       "encoding": {
         "x": {"field": "x", "type": "quantitative", "scale": {"domain": [0.476, 3.505], "nice": false, "zero": false}},
         "y": {"field": "y", "type": "quantitative", "scale": {"domain": [50, 100], "nice": false, "zero": false}},
         "text": {"field": "t"}}},
      {"data": {"name": "labels"}, "transform": [{"filter": "datum.panel === 'f' && datum.kind === 'sym'"}],
       "mark": {"type": "text", "font": "Lato", "fontSize": 11.5, "fontWeight": "bold", "baseline": "middle", "align": "center", "color": "#000"},
       "encoding": {
         "x": {"field": "x", "type": "quantitative", "scale": {"domain": [0.476, 3.505], "nice": false, "zero": false}},
         "y": {"field": "y", "type": "quantitative", "scale": {"domain": [50, 100], "nice": false, "zero": false}},
         "text": {"field": "t"}}},
      {"data": {"name": "labels"}, "transform": [{"filter": "datum.panel === 'f' && datum.kind === 'tag'"}],
       "mark": {"type": "text", "font": "Lato", "fontSize": 13, "baseline": "middle", "align": "center", "color": "#000"},
       "encoding": {
         "x": {"field": "x", "type": "quantitative", "scale": {"domain": [0.476, 3.505], "nice": false, "zero": false}},
         "y": {"field": "y", "type": "quantitative", "scale": {"domain": [50, 100], "nice": false, "zero": false}},
         "text": {"field": "t"}}}
    ]
  }
]
}
